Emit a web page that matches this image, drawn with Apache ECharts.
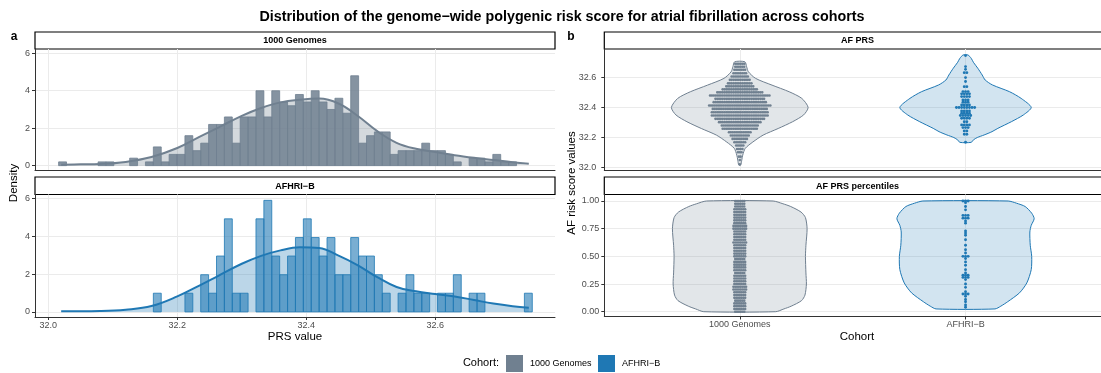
<!DOCTYPE html>
<html>
<head>
<meta charset="utf-8">
<script src="https://cdn.jsdelivr.net/npm/echarts@6/dist/echarts.min.js"></script>
<style>
html, body { margin: 0; padding: 0; background: #fff; }
#chart { width: 1101px; height: 373px; }
</style>
</head>
<body>
<div id="chart"></div>
<script>
// ---- data ----
const cohorts = ['1000 Genomes', 'AFHRI−B'];

// histogram bins (60 bins sharing one layout), values are densities
const binStart = 32.016;
const binWidth = 0.01224;
const histDensity1000G = [
  0.2, 0, 0, 0, 0, 0.2, 0.2, 0, 0, 0.4,
  0, 0.2, 1.0, 0.2, 0.6, 0.6, 1.6, 0.8, 1.2, 2.2,
  2.2, 2.6, 1.2, 2.6, 2.6, 4.0, 2.6, 4.0, 3.4, 3.2,
  3.8, 3.4, 4.0, 3.4, 3.0, 3.6, 2.8, 4.8, 1.2, 1.6,
  1.8, 1.8, 0.6, 0.8, 0.8, 0.8, 1.2, 0.8, 0.8, 0.6,
  0.2, 0, 0.4, 0.4, 0.2, 0.6, 0.2, 0.2, 0, 0
];
const histDensityAFHRI = [
  0, 0, 0, 0, 0, 0, 0, 0, 0, 0,
  0, 0, 0.99, 0, 0, 0, 0.99, 0, 1.97, 0.99,
  2.96, 4.93, 0.99, 0.99, 0, 4.93, 5.91, 2.96, 1.97, 2.96,
  3.94, 4.93, 3.94, 2.96, 3.94, 1.97, 1.97, 3.94, 2.96, 2.96,
  1.97, 0.99, 0, 0.99, 1.97, 0.99, 0.99, 0, 0.99, 0.99,
  1.97, 0, 0.99, 0.99, 0, 0, 0, 0, 0, 0.99
];

// kernel density curves
const kdeX = [32.02, 32.05, 32.08, 32.12, 32.16, 32.20, 32.235, 32.265, 32.30, 32.33, 32.36, 32.39,
              32.42, 32.45, 32.48, 32.51, 32.54, 32.57, 32.60, 32.63, 32.66, 32.69, 32.72, 32.745];
const kde1000G = [0.05, 0.07, 0.09, 0.2, 0.46, 0.94, 1.55, 2.06, 2.66, 3.08, 3.38, 3.52,
                  3.58, 3.32, 2.65, 1.84, 1.22, 0.9, 0.73, 0.56, 0.42, 0.3, 0.18, 0.1];
const kdeAFHRI = [0.04, 0.04, 0.05, 0.12, 0.31, 0.82, 1.41, 1.94, 2.55, 2.97, 3.26, 3.42,
                  3.38, 2.98, 2.47, 1.84, 1.32, 1.09, 0.95, 0.82, 0.63, 0.44, 0.3, 0.22];

// violin outlines: y values and relative half-widths
const violinPrs1000G_y = [32.017, 32.05, 32.083, 32.128, 32.17, 32.216, 32.26, 32.305, 32.35, 32.40,
                          32.46, 32.504, 32.548, 32.593, 32.637, 32.67, 32.703];
const violinPrs1000G_w = [0.014, 0.029, 0.043, 0.08, 0.19, 0.34, 0.56, 0.77, 0.93, 0.996,
                          0.904, 0.72, 0.47, 0.23, 0.125, 0.1, 0.075];
const violinPrsAFHRI_y = [32.168, 32.184, 32.20, 32.217, 32.239, 32.261, 32.305, 32.35, 32.40, 32.46,
                          32.504, 32.549, 32.582, 32.615, 32.66, 32.70, 32.726, 32.748];
const violinPrsAFHRI_w = [0.083, 0.114, 0.171, 0.271, 0.386, 0.471, 0.667, 0.843, 0.957, 0.81,
                          0.643, 0.393, 0.286, 0.243, 0.179, 0.114, 0.083, 0.036];
const violinPct1000G_y = [0.0, 0.025, 0.05, 0.1, 0.15, 0.25, 0.35, 0.5, 0.6, 0.75, 0.85, 0.9, 0.95, 0.975, 1.0];
const violinPct1000G_w = [0.524, 0.643, 0.75, 0.9, 0.95, 0.971, 0.964, 0.957, 0.964, 0.981, 0.957, 0.893, 0.743, 0.629, 0.486];
const violinPctAFHRI_y = [0.025, 0.05, 0.09, 0.17, 0.26, 0.38, 0.5, 0.6, 0.72, 0.78, 0.84, 0.89, 0.95, 0.98, 1.0];
const violinPctAFHRI_w = [0.429, 0.514, 0.614, 0.786, 0.893, 0.957, 0.964, 0.943, 0.937, 0.957, 1.0, 0.964, 0.869, 0.743, 0.621];

// dot rows: [value, number of stacked dots]
const dotsPrs1000G = [
  [32.022, 1], [32.051, 1], [32.073, 2], [32.102, 3], [32.124, 4], [32.147, 5], [32.169, 7], [32.191, 9],
  [32.213, 11], [32.235, 13], [32.258, 20], [32.28, 21], [32.302, 24], [32.324, 28], [32.346, 32], [32.368, 32],
  [32.39, 31], [32.413, 35], [32.435, 30], [32.457, 28], [32.479, 34], [32.50, 26], [32.52, 20], [32.54, 16],
  [32.56, 14], [32.583, 12], [32.605, 10], [32.627, 8], [32.65, 7], [32.67, 6], [32.69, 6]
];
const dotsPrsAFHRI = [
  [32.169, 1], [32.222, 2], [32.244, 2], [32.266, 3], [32.284, 4], [32.305, 2], [32.328, 4], [32.346, 5],
  [32.361, 4], [32.377, 4], [32.399, 8], [32.416, 4], [32.434, 3], [32.45, 3], [32.472, 4], [32.49, 4],
  [32.505, 3], [32.538, 2], [32.572, 1], [32.598, 1], [32.631, 2], [32.653, 1], [32.671, 1], [32.744, 1]
];
const dotsPct1000G = [
  [0.000, 6], [0.025, 7], [0.050, 7], [0.075, 7], [0.100, 6], [0.125, 7], [0.150, 7], [0.175, 7], [0.200, 8],
  [0.225, 8], [0.250, 7], [0.275, 7], [0.300, 7], [0.325, 7], [0.350, 6], [0.375, 7], [0.400, 7], [0.425, 7],
  [0.450, 7], [0.475, 6], [0.500, 7], [0.525, 7], [0.550, 7], [0.575, 7], [0.600, 7], [0.625, 8], [0.650, 7],
  [0.675, 7], [0.700, 7], [0.725, 7], [0.750, 8], [0.775, 8], [0.800, 7], [0.825, 7], [0.850, 7], [0.875, 7],
  [0.900, 7], [0.925, 7], [0.950, 6], [0.975, 6], [1.000, 6]
];
const dotsPctAFHRI = [
  [0.04, 1], [0.06, 1], [0.09, 1], [0.11, 1], [0.14, 1], [0.16, 3], [0.18, 1], [0.22, 1], [0.25, 1], [0.29, 1],
  [0.31, 3], [0.33, 3], [0.35, 1], [0.38, 1], [0.42, 1], [0.45, 1], [0.48, 1], [0.50, 3], [0.53, 1], [0.56, 1],
  [0.60, 1], [0.65, 1], [0.69, 1], [0.71, 1], [0.73, 1], [0.80, 1], [0.82, 1], [0.845, 3], [0.87, 3], [0.92, 1],
  [0.95, 1], [0.985, 1], [1.0, 3]
];

// axis tick values
const prsTicks = [32.0, 32.2, 32.4, 32.6];
const densityTicks = [0, 2, 4, 6];
const pctTicks = [0, 0.25, 0.5, 0.75, 1];
const cohortTicks = [1, 2];

// ---- styling ----
const FONT = '"Liberation Sans", Arial, Helvetica, sans-serif';
const COL_G = '#708090';
const COL_B = '#1f78b4';
const AXIS_COL = '#333333';
const LABEL_COL = '#4d4d4d';
const GRID_COL = '#ebebeb';
const VIOLIN_HALF = 0.304;

function rgba(hex, a) {
  const n = parseInt(hex.slice(1), 16);
  return 'rgba(' + (n >> 16) + ',' + ((n >> 8) & 255) + ',' + (n & 255) + ',' + a + ')';
}

function valueAxis(gridIndex, min, max, ticks, fmt, opts) {
  opts = opts || {};
  return {
    type: 'value', gridIndex, min, max,
    axisLine: { show: true, onZero: false, lineStyle: { color: AXIS_COL, width: 1 } },
    axisTick: { show: opts.ticks !== false, length: 3, customValues: ticks, lineStyle: { color: AXIS_COL, width: 1 } },
    axisLabel: { show: opts.labels !== false, customValues: ticks, formatter: fmt, color: LABEL_COL,
                 fontSize: 9, fontFamily: FONT, margin: opts.margin || 4 },
    splitLine: { show: true, lineStyle: { color: GRID_COL, width: 1 } }
  };
}

const fmt1 = v => Number(v).toFixed(1);
const fmt2 = v => Number(v).toFixed(2);
const fmtInt = v => String(Math.round(v));
const fmtCohort = v => cohorts[Math.round(v) - 1];

function histSeries(axisIdx, dens, col, alpha) {
  const data = dens.map((d, i) => [binStart + i * binWidth, binStart + (i + 1) * binWidth, d]);
  return {
    type: 'custom', xAxisIndex: axisIdx, yAxisIndex: axisIdx, z: 2, silent: true,
    encode: { x: [0, 1], y: 2 },
    data,
    renderItem: (params, api) => {
      const d = api.value(2);
      if (!d) return null;
      const a = api.coord([api.value(0), 0]);
      const b = api.coord([api.value(1), d]);
      return {
        type: 'rect',
        shape: { x: a[0], y: b[1], width: b[0] - a[0], height: a[1] - b[1] },
        style: { fill: rgba(col, alpha), stroke: col, lineWidth: 0.8 }
      };
    }
  };
}

function kdeSeries(axisIdx, ys, col, area) {
  return {
    type: 'line', xAxisIndex: axisIdx, yAxisIndex: axisIdx, silent: true,
    z: area ? 1 : 3,
    smooth: 0.4, symbol: 'none',
    data: kdeX.map((x, i) => [x, ys[i]]),
    lineStyle: area ? { width: 0, opacity: 0 } : { color: col, width: 2 },
    areaStyle: area ? { color: rgba(col, 0.3), opacity: 1 } : undefined
  };
}

function violinSeries(axisIdx, cat, ys, ws, col) {
  return {
    type: 'custom', xAxisIndex: axisIdx, yAxisIndex: axisIdx, z: 1, silent: true,
    data: [[cat, ys[0]]],
    encode: { x: 0, y: 1 },
    renderItem: (params, api) => {
      const pts = [];
      for (let i = 0; i < ys.length; i++) pts.push(api.coord([cat + ws[i] * VIOLIN_HALF, ys[i]]));
      for (let i = ys.length - 1; i >= 0; i--) pts.push(api.coord([cat - ws[i] * VIOLIN_HALF, ys[i]]));
      return {
        type: 'polygon',
        shape: { points: pts, smooth: 0.25 },
        style: { fill: rgba(col, 0.2), stroke: col, lineWidth: 1 }
      };
    }
  };
}

function dotSeries(axisIdx, cat, rows, col, r, step) {
  return {
    type: 'custom', xAxisIndex: axisIdx, yAxisIndex: axisIdx, z: 2, silent: true,
    data: rows.map(row => [cat, row[0], row[1]]),
    encode: { x: 0, y: 1 },
    renderItem: (params, api) => {
      const c = api.coord([api.value(0), api.value(1)]);
      const n = api.value(2);
      const children = [];
      for (let i = 0; i < n; i++) {
        children.push({ type: 'circle', shape: { cx: c[0] + (i - (n - 1) / 2) * step, cy: c[1], r },
                        style: { fill: col } });
      }
      return { type: 'group', children };
    }
  };
}

function text(x, y, str, font, fill, align, rotation) {
  return {
    type: 'text', x, y, rotation: rotation || 0, silent: true,
    style: { text: str, font, fill: fill || '#000', align: align || 'center', verticalAlign: 'middle' }
  };
}
function strip(x, y, w, h, label) {
  return [
    { type: 'rect', silent: true, shape: { x, y, width: w, height: h },
      style: { fill: '#ffffff', stroke: '#000000', lineWidth: 1.2 } },
    text(x + w / 2, y + h / 2 + 0.5, label, 'bold 9px ' + FONT, '#000')
  ];
}

const panelAx = { left: 35, width: 520 };
const panelBx = { left: 604.3, width: 506.5 };

const option = {
  animation: false,
  backgroundColor: '#ffffff',
  grid: [
    { left: panelAx.left, top: 49, width: panelAx.width, height: 121.5 },
    { left: panelAx.left, top: 194.5, width: panelAx.width, height: 122.5 },
    { left: panelBx.left, top: 49, width: panelBx.width, height: 121.5 },
    { left: panelBx.left, top: 194.5, width: panelBx.width, height: 122 }
  ],
  xAxis: [
    valueAxis(0, 31.9794, 32.7856, prsTicks, fmt1, { ticks: false, labels: false }),
    valueAxis(1, 31.9794, 32.7856, prsTicks, fmt1, { margin: 4 }),
    valueAxis(2, 0.4, 2.6, cohortTicks, fmtCohort, { ticks: false, labels: false }),
    valueAxis(3, 0.4, 2.6, cohortTicks, fmtCohort, { margin: 4 })
  ],
  yAxis: [
    valueAxis(0, -0.26, 6.23, densityTicks, fmtInt, { margin: 5 }),
    valueAxis(1, -0.27, 6.22, densityTicks, fmtInt, { margin: 5 }),
    valueAxis(2, 31.981, 32.788, prsTicks, fmt1, { margin: 8 }),
    valueAxis(3, -0.0434, 1.0587, pctTicks, fmt2, { margin: 5 })
  ],
  series: [
    kdeSeries(0, kde1000G, COL_G, true),
    histSeries(0, histDensity1000G, COL_G, 0.85),
    kdeSeries(0, kde1000G, COL_G, false),
    kdeSeries(1, kdeAFHRI, COL_B, true),
    histSeries(1, histDensityAFHRI, COL_B, 0.6),
    kdeSeries(1, kdeAFHRI, COL_B, false),
    violinSeries(2, 1, violinPrs1000G_y, violinPrs1000G_w, COL_G),
    violinSeries(2, 2, violinPrsAFHRI_y, violinPrsAFHRI_w, COL_B),
    dotSeries(2, 1, dotsPrs1000G, COL_G, 1.3, 1.8),
    dotSeries(2, 2, dotsPrsAFHRI, COL_B, 1.45, 2.6),
    violinSeries(3, 1, violinPct1000G_y, violinPct1000G_w, COL_G),
    violinSeries(3, 2, violinPctAFHRI_y, violinPctAFHRI_w, COL_B),
    dotSeries(3, 1, dotsPct1000G, COL_G, 1.3, 1.8),
    dotSeries(3, 2, dotsPctAFHRI, COL_B, 1.45, 2.6)
  ],
  graphic: [
    text(562, 17, 'Distribution of the genome−wide polygenic risk score for atrial fibrillation across cohorts',
         'bold 14.3px ' + FONT, '#000'),
    text(14, 37, 'a', 'bold 12px ' + FONT, '#000'),
    text(571, 37, 'b', 'bold 12px ' + FONT, '#000'),
    ...strip(panelAx.left, 32, panelAx.width, 17, cohorts[0]),
    ...strip(panelAx.left, 177, panelAx.width, 17.5, cohorts[1]),
    ...strip(panelBx.left, 32, panelBx.width, 17, 'AF PRS'),
    ...strip(panelBx.left, 177, panelBx.width, 17.5, 'AF PRS percentiles'),
    text(295, 337, 'PRS value', '11.5px ' + FONT, '#000'),
    text(857, 337, 'Cohort', '11.5px ' + FONT, '#000'),
    text(14, 183, 'Density', '11.5px ' + FONT, '#000', 'center', Math.PI / 2),
    text(572, 183, 'AF risk score values', '11.5px ' + FONT, '#000', 'center', Math.PI / 2),
    text(499, 363, 'Cohort:', '11px ' + FONT, '#000', 'right'),
    { type: 'rect', silent: true, shape: { x: 506, y: 355, width: 17, height: 17 }, style: { fill: COL_G } },
    text(530, 363.5, cohorts[0], '9px ' + FONT, '#000', 'left'),
    { type: 'rect', silent: true, shape: { x: 598, y: 355, width: 17, height: 17 }, style: { fill: COL_B } },
    text(622, 363.5, cohorts[1], '9px ' + FONT, '#000', 'left')
  ]
};

const chart = echarts.init(document.getElementById('chart'), null, { renderer: 'canvas' });
chart.setOption(option);
</script>
</body>
</html>
